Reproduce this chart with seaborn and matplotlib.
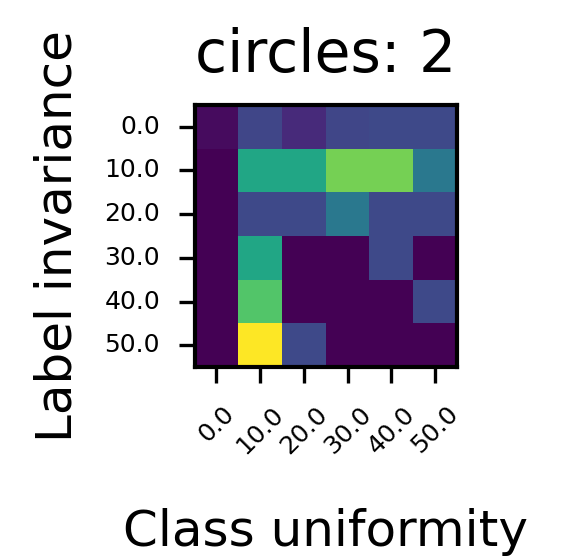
import numpy as np
import pandas as pd
import matplotlib
matplotlib.use("Agg")
import matplotlib.pyplot as plt
import seaborn as sns

# axis categories
class_uniformity = [0.0, 10.0, 20.0, 30.0, 40.0, 50.0]
label_invariance = [0.0, 10.0, 20.0, 30.0, 40.0, 50.0]

# cell values, one list per label-invariance row
row_00 = [0.03, 0.21, 0.12, 0.21, 0.22, 0.22]
row_10 = [0.00, 0.59, 0.59, 0.79, 0.79, 0.40]
row_20 = [0.00, 0.22, 0.22, 0.40, 0.22, 0.22]
row_30 = [0.00, 0.59, 0.00, 0.00, 0.22, 0.00]
row_40 = [0.00, 0.73, 0.00, 0.00, 0.00, 0.22]
row_50 = [0.00, 1.00, 0.22, 0.00, 0.00, 0.00]

grid = pd.DataFrame(
    [row_00, row_10, row_20, row_30, row_40, row_50],
    index=label_invariance,
    columns=class_uniformity,
)

fig = plt.figure(figsize=(1.96, 1.86), dpi=300)
ax = fig.add_axes([0.331, 0.342, 0.446, 0.470])

sns.heatmap(
    grid,
    cmap="viridis",
    vmin=0,
    vmax=1,
    cbar=False,
    square=False,
    xticklabels=[str(v) for v in class_uniformity],
    yticklabels=[str(v) for v in label_invariance],
    ax=ax,
)

for side in ["top", "right", "bottom", "left"]:
    ax.spines[side].set_visible(True)
    ax.spines[side].set_linewidth(1.0)
    ax.spines[side].set_color("black")

ax.tick_params(axis="both", length=3.8, width=0.8, labelsize=6, pad=4.5)
plt.setp(ax.get_xticklabels(), rotation=45)
plt.setp(ax.get_yticklabels(), rotation=0)

ax.set_title("circles: 2", fontsize=14, pad=8)
ax.set_xlabel("Class uniformity", fontsize=12, labelpad=12)
ax.set_ylabel("Label invariance", fontsize=12, labelpad=5.5)

fig.savefig("out.png", dpi=300)
